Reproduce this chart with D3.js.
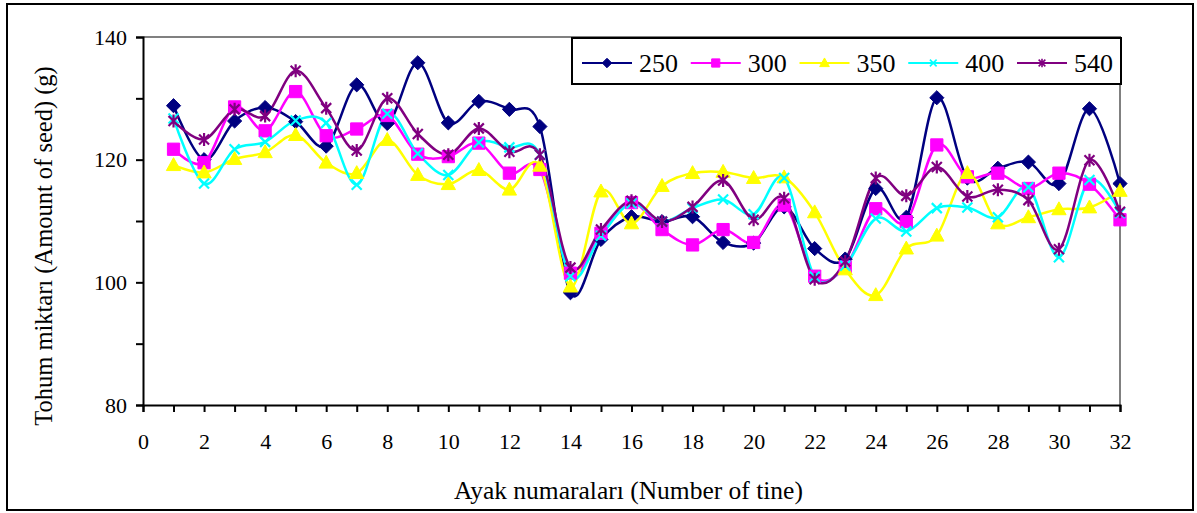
<!DOCTYPE html>
<html>
<head>
<meta charset="utf-8">
<script src="https://cdn.jsdelivr.net/npm/d3@7"></script>
<style>
  body { margin: 0; background: #fff; }
  svg { display: block; font-family: "Liberation Serif", "Times New Roman", serif; }
</style>
</head>
<body>
<svg id="chart" width="1197" height="513"></svg>
<script>
// tine numbers 1..32
const tines = d3.range(1, 33);
const seriesNames = ["250", "300", "350", "400", "540"];

const s250 = [128.8, 120.0, 126.3, 128.5, 126.2, 122.2, 132.2, 125.9, 135.8, 126.0, 129.5, 128.2, 125.4,
  98.3, 107.0, 110.7, 109.9, 110.7, 106.5, 106.4, 112.3, 105.5, 103.8, 115.3, 110.6, 130.1, 117.0, 118.6, 119.6, 116.1, 128.3, 116.1];
const s300 = [121.7, 119.5, 128.6, 124.7, 131.1, 123.9, 125.0, 127.2, 120.9, 120.5, 122.7, 117.8, 118.4,
  101.5, 108.0, 113.0, 108.6, 106.1, 108.6, 106.5, 112.6, 101.0, 102.5, 112.0, 109.9, 122.4, 117.2, 117.8, 115.3, 117.8, 116.0, 110.2];
const s350 = [119.1, 117.9, 120.1, 121.2, 124.0, 119.5, 117.8, 123.2, 117.5, 116.0, 118.3, 115.1, 119.0,
  99.3, 114.8, 109.6, 115.7, 117.8, 118.0, 117.0, 117.1, 111.4, 102.1, 97.9, 105.5, 107.6, 117.8, 109.6, 110.6, 111.9, 112.2, 114.9];
const s400 = [126.7, 116.1, 121.7, 122.9, 126.4, 126.0, 115.9, 127.5, 121.0, 117.5, 122.8, 122.0, 120.8,
  101.0, 107.6, 112.9, 109.9, 112.1, 113.5, 111.1, 117.0, 100.9, 102.7, 110.4, 108.3, 112.1, 112.2, 110.6, 115.5, 104.1, 116.7, 111.3];
const s540 = [126.3, 123.3, 128.2, 127.1, 134.5, 128.4, 121.5, 130.0, 124.2, 120.8, 125.1, 121.3, 120.8,
  102.4, 108.6, 113.3, 109.9, 112.3, 116.6, 110.2, 113.7, 100.5, 103.4, 117.0, 114.1, 118.8, 114.0, 115.1, 113.4, 105.4, 119.9, 111.5];

const xTicks = d3.range(0, 33, 2);
const yTicks = [80, 100, 120, 140];

const colors = ["#000080", "#FF00FF", "#FFFF00", "#00FFFF", "#800080"];

// custom marker shapes (Excel style)
const diamond = { draw(ctx, size) { const r = Math.sqrt(size) / 2 * 1.35;
  ctx.moveTo(0, -r); ctx.lineTo(r, 0); ctx.lineTo(0, r); ctx.lineTo(-r, 0); ctx.closePath(); } };
const square = { draw(ctx, size) { const r = Math.sqrt(size) / 2;
  ctx.rect(-r, -r, 2 * r, 2 * r); } };
const triangle = { draw(ctx, size) { const r = Math.sqrt(size) / 2 * 1.1;
  ctx.moveTo(0, -r * 1.05); ctx.lineTo(r, r * 0.75); ctx.lineTo(-r, r * 0.75); ctx.closePath(); } };
const cross = { draw(ctx, size) { const r = Math.sqrt(size) / 2;
  ctx.moveTo(-r, -r); ctx.lineTo(r, r); ctx.moveTo(r, -r); ctx.lineTo(-r, r); } };
const star = { draw(ctx, size) { const r = Math.sqrt(size) / 2;
  ctx.moveTo(-r, -r); ctx.lineTo(r, r); ctx.moveTo(r, -r); ctx.lineTo(-r, r);
  ctx.moveTo(0, -r * 1.3); ctx.lineTo(0, r * 1.3); } };

const series = [
  { name: seriesNames[0], values: s250, color: colors[0], shape: diamond, filled: true, size: 110 },
  { name: seriesNames[1], values: s300, color: colors[1], shape: square, filled: true, size: 150 },
  { name: seriesNames[2], values: s350, color: colors[2], shape: triangle, filled: true, size: 170 },
  { name: seriesNames[3], values: s400, color: colors[3], shape: cross, filled: false, size: 100 },
  { name: seriesNames[4], values: s540, color: colors[4], shape: star, filled: false, size: 100 },
];

const svg = d3.select("#chart");
const plotLeft = 143, plotRight = 1120, plotTop = 37, plotBottom = 405;

const x = d3.scaleLinear().domain([0, 32]).range([plotLeft, plotRight]);
const y = d3.scaleLinear().domain([80, 140]).range([plotBottom, plotTop]);

// outer frame
svg.append("rect").attr("x", 7).attr("y", 4).attr("width", 1186).attr("height", 506)
  .attr("fill", "#fff").attr("stroke", "#000").attr("stroke-width", 2);

// plot area border (gray top/right)
svg.append("path")
  .attr("d", `M${plotLeft},${plotTop}H${plotRight}V${plotBottom}`)
  .attr("fill", "none").attr("stroke", "#808080").attr("stroke-width", 2);

// x axis
const xAxis = svg.append("g").attr("transform", `translate(0,${plotBottom})`)
  .call(d3.axisBottom(x).tickValues(d3.range(0, 33)).tickSize(7)
    .tickFormat(d => xTicks.includes(d) ? d : ""));
// y axis
const yAxis = svg.append("g").attr("transform", `translate(${plotLeft},0)`)
  .call(d3.axisLeft(y).tickValues([80, 90, 100, 110, 120, 130, 140]).tickSize(7)
    .tickFormat(d => yTicks.includes(d) ? d : ""));

[xAxis, yAxis].forEach(g => {
  g.select(".domain").attr("stroke", "#000").attr("stroke-width", 2);
  g.selectAll(".tick line").attr("stroke", "#000").attr("stroke-width", 2);
  g.selectAll(".tick text").attr("fill", "#000").style("font-size", "22px")
    .style("font-family", "Liberation Serif");
});
xAxis.selectAll(".tick text").attr("dy", "0.71em").attr("y", 28);
yAxis.selectAll(".tick text").attr("x", -16);

// axis titles
svg.append("text").attr("x", (plotLeft + plotRight) / 2 - 3).attr("y", 499)
  .attr("text-anchor", "middle").style("font-size", "25.5px")
  .text("Ayak numaraları (Number of tine)");
svg.append("text").attr("transform", `translate(52,246) rotate(-90)`)
  .attr("text-anchor", "middle").style("font-size", "24.5px")
  .text("Tohum miktarı (Amount of seed) (g)");

// lines
const line = d3.line()
  .x((d, i) => x(tines[i]))
  .y(d => y(d))
  .curve(d3.curveCatmullRom.alpha(0));

const plot = svg.append("g");
series.forEach(s => {
  plot.append("path").datum(s.values)
    .attr("d", line).attr("fill", "none")
    .attr("stroke", s.color).attr("stroke-width", 2.5);
});
series.forEach(s => {
  plot.append("g").selectAll("path").data(s.values).join("path")
    .attr("transform", (d, i) => `translate(${x(tines[i])},${y(d)})`)
    .attr("d", d3.symbol().type(s.shape).size(s.size))
    .attr("fill", s.filled ? s.color : "none")
    .attr("stroke", s.color).attr("stroke-width", s.filled ? 1 : 2.2);
});

// legend
const legend = svg.append("g");
legend.append("rect").attr("x", 572).attr("y", 38).attr("width", 549).attr("height", 46)
  .attr("fill", "#fff").attr("stroke", "#000").attr("stroke-width", 2);
const legX = d3.scalePoint().domain(seriesNames).range([582, 1017]);
series.forEach(s => {
  const gx = legX(s.name);
  const g = legend.append("g").attr("transform", `translate(${gx},63)`);
  g.append("line").attr("x1", 0).attr("x2", 50).attr("stroke", s.color).attr("stroke-width", 2);
  g.append("path").attr("transform", "translate(25,0)")
    .attr("d", d3.symbol().type(s.shape).size(s.size * 0.45))
    .attr("fill", s.filled ? s.color : "none")
    .attr("stroke", s.color).attr("stroke-width", s.filled ? 1 : 1.6);
  g.append("text").attr("x", 57).attr("y", 0).attr("dy", "0.35em")
    .style("font-size", "26px").text(s.name);
});
</script>
</body>
</html>
